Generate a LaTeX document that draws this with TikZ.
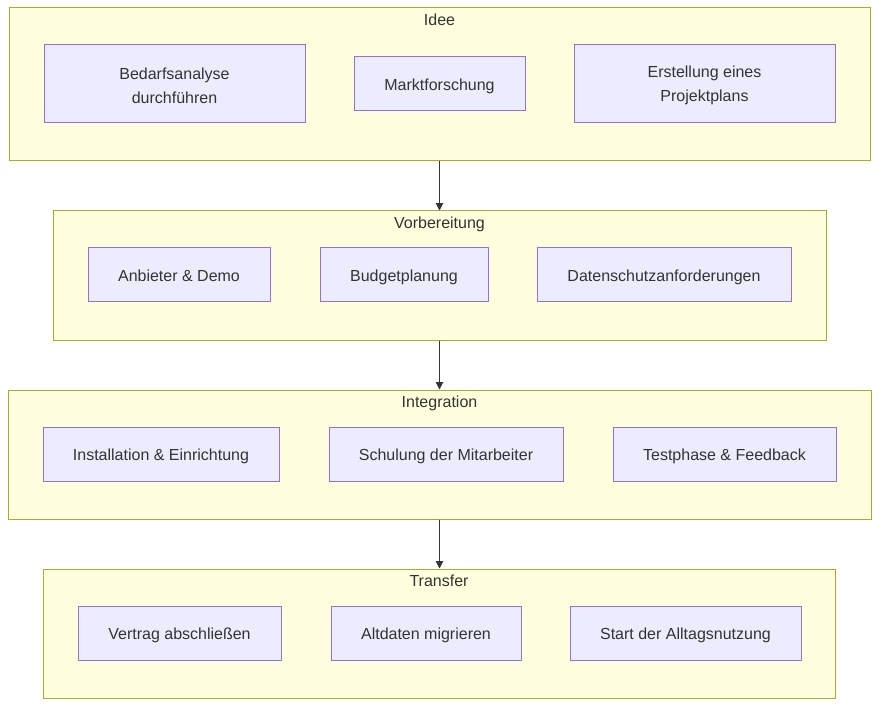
\documentclass[tikz,border=0pt]{standalone}
\usepackage{fontspec}
\setmainfont{Liberation Sans}
\usetikzlibrary{arrows.meta}
\definecolor{clfill}{HTML}{FFFFDE}
\definecolor{cldraw}{HTML}{AAAA33}
\definecolor{ndfill}{HTML}{ECECFF}
\definecolor{nddraw}{HTML}{9370DB}
\definecolor{txt}{HTML}{333333}
\tikzset{
  cluster/.style={draw=cldraw, fill=clfill, line width=0.75pt, inner sep=0pt},
  box/.style={draw=nddraw, fill=ndfill, line width=0.75pt, inner sep=0pt},
  boxtext/.style={inner sep=0pt, text=txt, font=\fontsize{12}{18}\selectfont, align=center},
  onetext/.style={inner sep=0pt, text=txt, font=\fontsize{12}{14}\selectfont, text height=8.6pt, text depth=2.5pt},
  ctitle/.style={text=txt, font=\fontsize{12}{14}\selectfont, inner sep=0pt, text height=8.6pt, text depth=2.5pt},
  flow/.style={draw=txt, line width=0.75pt, -{Triangle[length=5.5pt,width=5.5pt]}}
}
\newcommand{\bx}[6]{% name, x1, y1, x2, y2, text (one line)
  \pgfmathsetmacro{\cx}{(#2+#4)/2}\pgfmathsetmacro{\cy}{(#3+#5)/2}
  \pgfmathsetmacro{\w}{(#4-#2)*0.75}\pgfmathsetmacro{\h}{(#5-#3)*0.75}
  \node[box, minimum width=\w pt, minimum height=\h pt] (#1) at (\cx,\cy) {};
  \node[onetext] (#1t) at (\cx,\cy+2) {#6};}
\newcommand{\bxx}[6]{% two lines
  \pgfmathsetmacro{\cx}{(#2+#4)/2}\pgfmathsetmacro{\cy}{(#3+#5)/2}
  \pgfmathsetmacro{\w}{(#4-#2)*0.75}\pgfmathsetmacro{\h}{(#5-#3)*0.75}
  \node[box, minimum width=\w pt, minimum height=\h pt] (#1) at (\cx,\cy) {};
  \node[boxtext] (#1t) at (\cx,\cy+1.5) {#6};}
\newcommand{\cl}[6]{%
  \pgfmathsetmacro{\cx}{(#2+#4)/2}\pgfmathsetmacro{\cy}{(#3+#5)/2}
  \pgfmathsetmacro{\w}{(#4-#2)*0.75}\pgfmathsetmacro{\h}{(#5-#3)*0.75}
  \node[cluster, minimum width=\w pt, minimum height=\h pt] (#1) at (\cx,\cy) {};
  \node[ctitle] (#1t) at (\cx,#3+13.5) {#6};}
\begin{document}
\begin{tikzpicture}[x=0.75pt, y=-0.75pt]
\useasboundingbox (0,0) rectangle (879,706);
\cl{c1}{9}{8}{870}{161}{Idee}
\cl{c2}{53}{211}{826}{340}{Vorbereitung}
\cl{c3}{8}{390}{871}{519}{Integration}
\cl{c4}{43}{569}{835}{698}{Transfer}
\bxx{a1}{44}{45}{305}{123}{Bedarfsanalyse\\durchführen}
\bx{a2}{354}{57}{525}{111}{Marktforschung}
\bxx{a3}{574}{45}{835}{123}{Erstellung eines\\Projektplans}
\bx{b1}{88}{248}{270}{302}{Anbieter \& Demo}
\bx{b2}{320}{248}{488}{302}{Budgetplanung}
\bx{b3}{537}{248}{791}{302}{Datenschutzanforderungen}
\bx{d1}{43}{427}{279}{481}{Installation \& Einrichtung}
\bx{d2}{329}{427}{563}{481}{Schulung der Mitarbeiter}
\bx{d3}{613}{427}{836}{481}{Testphase \& Feedback}
\bx{e1}{78}{606}{281}{660}{Vertrag abschließen}
\bx{e2}{331}{606}{521}{660}{Altdaten migrieren}
\bx{e3}{570}{606}{801}{660}{Start der Alltagsnutzung}
\draw[flow] (c1.south -| 439.5,0) -- (c2.north -| 439.5,0);
\draw[flow] (c2.south -| 439.5,0) -- (c3.north -| 439.5,0);
\draw[flow] (c3.south -| 439.5,0) -- (c4.north -| 439.5,0);
\end{tikzpicture}
\end{document}
